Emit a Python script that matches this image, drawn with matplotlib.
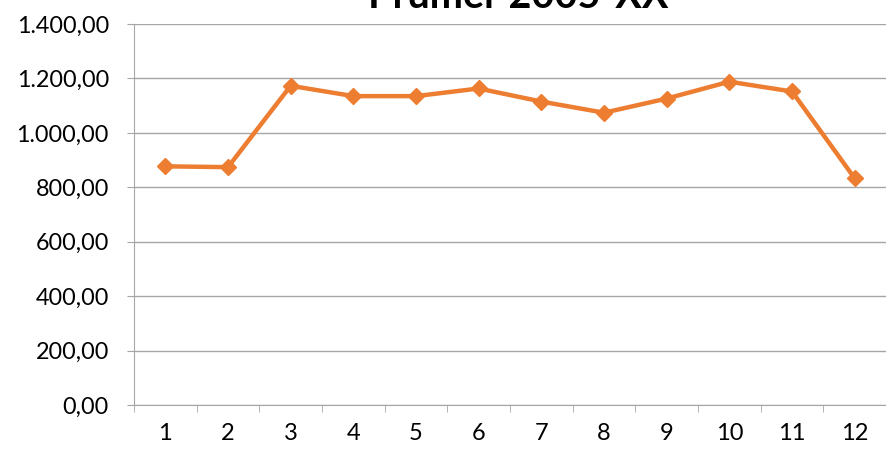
import matplotlib
matplotlib.use("Agg")
from matplotlib import pyplot as plt
from matplotlib.ticker import FuncFormatter

months = [1, 2, 3, 4, 5, 6, 7, 8, 9, 10, 11, 12]
values = [877, 874, 1173, 1135, 1135, 1163, 1115, 1074, 1126, 1188, 1152, 833]
title = "Průměr 2005-XX"

plt.rcParams['font.family'] = ['Lato', 'DejaVu Sans']

def cz(v, pos):
    s = "{:,.2f}".format(v)
    return s.replace(",", " ").replace(".", ",").replace(" ", ".")

fig = plt.figure(figsize=(8.87, 4.53), dpi=100)
ax = fig.add_axes([134/887, 48/453, 752/887, 381/453])

ax.plot(months, values, color='#ED7D31', lw=3.2, marker='D', ms=8.5, zorder=3)

ax.set_xlim(0.5, 12.5)
ax.set_ylim(0, 1400)
ax.set_yticks(range(0, 1401, 200))
ax.yaxis.set_major_formatter(FuncFormatter(cz))
ax.set_xticks(months)
ax.set_xticks([m + 0.5 for m in range(0, 12)], minor=True)
ax.grid(axis='y', color='#A6A6A6', lw=1, zorder=0)
for s in ['top', 'right']:
    ax.spines[s].set_visible(False)
for s in ['left', 'bottom']:
    ax.spines[s].set_color('#A6A6A6')
ax.tick_params(axis='y', length=5, color='#A6A6A6', labelsize=16.8, pad=13)
ax.tick_params(axis='x', which='major', length=0, labelsize=17, pad=13)
ax.tick_params(axis='x', which='minor', length=5, color='#A6A6A6')

# title sits partly above the top edge, as in the original
fig.text(518/887, 1 - 8/453, title, ha='center', va='baseline',
         fontsize=28.5, fontweight='bold')

fig.savefig("out.png", dpi=100)
